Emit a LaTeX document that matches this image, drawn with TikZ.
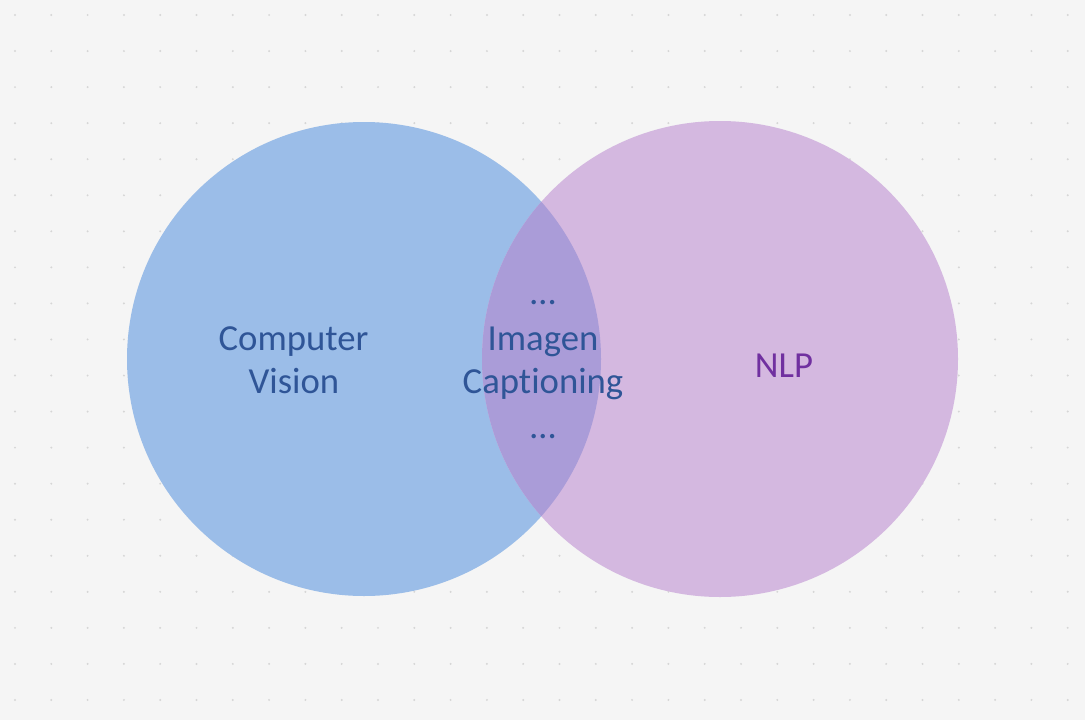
\documentclass[tikz,border=0pt]{standalone}
\usepackage{fontspec}
\setmainfont[Ligatures={NoCommon,NoContextual}]{Carlito}
\definecolor{bgc}{HTML}{F5F5F5}
\definecolor{dotc}{HTML}{D6D6D6}
\definecolor{cvblue}{HTML}{9BBDE8}
\definecolor{nlppurple}{HTML}{D4B8E0}
\definecolor{lens}{HTML}{AA9CD8}
\definecolor{txtblue}{HTML}{2F5597}
\definecolor{txtpurple}{HTML}{7030A0}
\tikzset{
  lbl/.style={anchor=base, inner sep=0pt, font=\fontsize{36.7}{44}\selectfont, text=txtblue},
  nlplbl/.style={lbl, text=txtpurple}
}
\begin{document}
\begin{tikzpicture}[x=1pt,y=-1pt]
\fill[bgc] (0,0) rectangle (1085,720);
\useasboundingbox (0,0) rectangle (1085,720);
\foreach \i in {0,...,29}{
  \foreach \j in {0,...,19}{
    \fill[dotc] ({15+36.3*\i},{15+36.05*\j}) circle[radius=1.1];
  }
}
\fill[cvblue] (364,359) circle[radius=237];
\fill[nlppurple] (720,359) circle[radius=238];
\begin{scope}
  \clip (364,359) circle[radius=237];
  \fill[lens] (720,359) circle[radius=238];
\end{scope}
\node[lbl] (cv1) at (293.5,350) {Computer};
\node[lbl] (cv2) at (294,393) {Vision};
\node[lbl] (m1) at (543,304) {…};
\node[lbl] (m2) at (543,350) {Imagen};
\node[lbl] (m3) at (543,393) {Captioning};
\node[lbl] (m4) at (543,438) {…};
\node[nlplbl] (nlp) at (784,377) {NLP};
\end{tikzpicture}
\end{document}
